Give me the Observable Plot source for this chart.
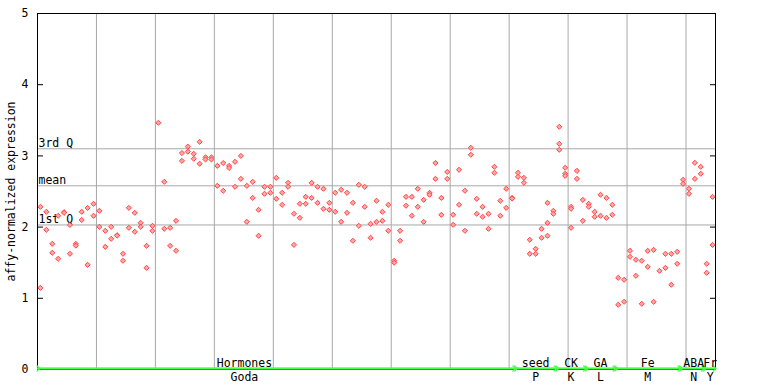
<!DOCTYPE html>
<html><head><meta charset="utf-8">
<script src="https://cdn.jsdelivr.net/npm/d3@7"></script>
<script src="https://cdn.jsdelivr.net/npm/@observablehq/plot@0.6"></script>
<style>
html,body{margin:0;padding:0;background:#fff;}
#chart svg{display:block;}
</style></head><body><div id="chart"></div>
<script>
// expression values per sample column (0..114)
const expression = [
  [2.285,1.147],[2.215,1.962],[1.765,1.639],[2.159,1.555],[2.21,2.20],
  [2.03,1.625],[1.765,1.74],[2.215,2.10],[2.27,1.47],[2.327,2.159],
  [2.229,2.004],[1.948,1.723],[2.004,1.836],[1.886,1.88],[1.625,1.527],
  [2.27,1.99],[2.20,1.934],[2.06,2.004],[1.737,1.428],[2.018,1.948],
  [3.465],[2.636,1.976],[1.99,1.737],[2.088,1.667],[3.04,2.93],
  [3.13,3.06],[3.03,2.96],[3.198,2.89],[2.98,2.95],[2.98,2.95],
  [2.86,2.58],[2.90,2.51],[2.86,2.83],[2.917,2.566],[3.0,2.678],
  [2.58,2.074],[2.636,2.41],[2.243,1.878],[2.566,2.468],[2.566,2.482],
  [2.692,2.397],[2.482,2.313],[2.622,2.566],[2.187,1.75],[2.327,2.13],
  [2.425,2.327],[2.622,2.41],[2.566,2.341],[2.538,2.257],[2.341,2.243],
  [2.482,2.215],[2.524,2.074],[2.482,2.20],[2.341,1.808],[2.594,2.018],
  [2.566,2.285],[2.046,1.85],[2.37,2.074],[2.215,2.088],[2.313,1.948],
  [1.527,1.50],[1.948,1.808],[2.425,2.30],[2.425,2.159],[2.538,2.285],
  [2.383,2.074],[2.482,2.454],[2.90,2.678],[2.41,2.173],[2.775,2.678],
  [2.173,2.032],[2.805,2.313],[2.51,1.948],[3.114,3.016],[2.397,2.187],
  [2.285,2.145],[2.187,1.976],[2.847,2.763],[2.37,2.159],[2.538,2.27],
  [2.41,2.40],[2.763,2.706],[2.692,2.622],[1.822,1.625],[1.695,1.625],
  [1.976,1.85],[2.341,2.06,1.878],[2.229,2.187],[3.409,3.17,3.086],[2.833,2.749,2.72],
  [2.285,2.257,1.99],[2.79,2.678],[2.383,2.088],[2.327,2.285],[2.215,2.145],
  [2.454,2.159],[2.41,2.13],[2.313,2.173],[1.288,0.909],[1.26,0.951],
  [1.667,1.583],[1.541,1.316],[1.527,0.923],[1.667,1.442],[1.681,0.951],
  [1.386],[1.625,1.428],[1.625,1.19],[1.653,1.485],[2.664,2.608],
  [2.538,2.468],[2.903,2.678],[2.847,2.749],[1.485,1.358],[2.425,1.75]
];

const groupNames   = ["Hormones","seed","CK","GA","Fe","ABA","Fr"];
const groupSources = ["Goda","P","K","L","M","N","Y"];
const groupStart   = [0, 81, 88, 93, 98, 109, 113];
const groupEnd     = [80, 87, 92, 97, 108, 112, 114];
const groupLabelAt = [34.6, 84, 90, 95, 103, 110.8, 113.6];

const refNames  = ["3rd Q","mean","1st Q"];
const refValues = [3.10, 2.58, 2.03];

const yTicks = [0,1,2,3,4,5];
const yLabel = "affy-normalized expression";
const sampleCount = expression.length;

// tables built from the arrays
const points = expression.flatMap((vals, col) => vals.map(v => ({col, v})));
const groups = groupNames.map((name, i) => ({
  name, source: groupSources[i], start: groupStart[i], end: groupEnd[i], at: groupLabelAt[i]
}));
const refs = refNames.map((name, i) => ({name, v: refValues[i]}));
const gridCols = d3.range(9.5, sampleCount, 10);

const chart = Plot.plot({
  width: 768,
  height: 384,
  marginLeft: 37,
  marginRight: 53,
  marginTop: 13,
  marginBottom: 15,
  style: {fontFamily: "'DejaVu Sans Mono', monospace", fontSize: "11.5px", background: "#fff", color: "#000", overflow: "visible"},
  x: {domain: [-0.5, sampleCount - 0.5], axis: null},
  y: {domain: [0, 5]},
  marks: [
    Plot.gridX(gridCols, {stroke: "#a8a8a8", strokeOpacity: 1, strokeWidth: 1}),
    Plot.ruleY(refValues, {stroke: "#a8a8a8", strokeWidth: 1}),
    Plot.text(refs, {y: "v", text: "name", frameAnchor: "left", textAnchor: "start", lineAnchor: "bottom", dx: 1, dy: -2, fill: "#000"}),
    Plot.dot(points, {x: "col", y: "v", symbol: "diamond2", r: 2.3, stroke: "#ff4444", fill: "#ffa8a8", strokeWidth: 1}),
    Plot.frame({stroke: "#000"}),
    Plot.axisY(yTicks, {anchor: "left", tickSize: 0, tickPadding: 9, tickFormat: d => String(d), label: yLabel, labelAnchor: "center", labelArrow: "none", labelOffset: 31}),
    Plot.axisY(yTicks, {anchor: "left", tickSize: 6, dx: 6, tickFormat: () => "", label: null}),
    Plot.axisY(yTicks.slice(1, 5), {anchor: "right", tickSize: 6, dx: -6, tickFormat: () => "", label: null}),
    Plot.ruleY([0], {stroke: "#44ff44", strokeWidth: 2, dy: -1}),
    Plot.link(groups, {x1: d => d.start - 0.35, x2: d => d.end + 0.35, y1: () => 0, y2: () => 0, dy: -1,
      stroke: "#44ff44", strokeWidth: 1.3, markerStart: "arrow", markerEnd: "arrow"}),
    Plot.text(groups, {x: "at", text: "name", frameAnchor: "bottom", lineAnchor: "bottom", dy: -2.5, fill: "#000"}),
    Plot.text(groups, {x: "at", text: "source", frameAnchor: "bottom", lineAnchor: "bottom", dy: 11.5, fill: "#000"})
  ]
});
document.getElementById("chart").appendChild(chart);
</script></body></html>
